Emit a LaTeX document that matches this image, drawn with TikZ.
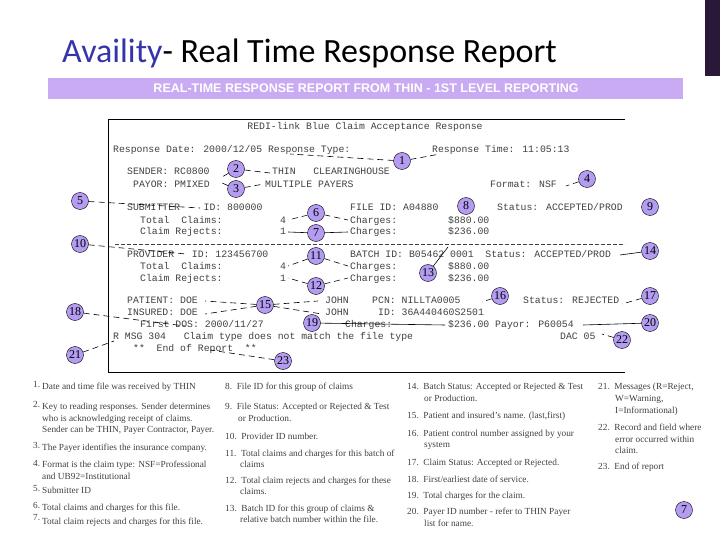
\documentclass[tikz,border=0pt]{standalone}
\usepackage{fontspec}
\setmainfont{Liberation Serif}
\newfontfamily\ttl{Carlito}
\newfontfamily\hv{Liberation Sans}
\newfontfamily\mn{Liberation Mono}
\definecolor{bub}{HTML}{B49CF2}
\definecolor{band}{HTML}{C9ABF3}
\definecolor{avblue}{HTML}{3535A8}
\definecolor{dpur}{HTML}{2A1838}
\definecolor{rep}{HTML}{404040}
\begin{document}
\begin{tikzpicture}[x=1pt,y=-1pt,
  bubble/.style={circle,fill=bub,draw=black,line width=0.4pt,inner sep=0pt,minimum size=17pt,font=\fontsize{12}{12}\selectfont},
  rt/.style={anchor=base west,inner sep=0pt,font=\mn\fontsize{9.8}{9.8}\selectfont,text=rep},
  lg/.style={anchor=base west,inner sep=0pt,font=\fontsize{9.3}{9.3}\selectfont,text=black!75},
  cn/.style={dashed,dash pattern=on 6pt off 4pt,line width=0.6pt},
  cs/.style={line width=0.6pt}]
\useasboundingbox (0,0) rectangle (720,540);
\fill[dpur] (705,0) rectangle (720,76);
\node[anchor=base west,inner sep=0pt,font=\ttl\fontsize{34}{34}\selectfont] (title) at (62,63) {\textcolor{avblue}{Availity}- Real Time Response Report};
\fill[band] (48,78) rectangle (683,99);
\node[inner sep=0pt,text=white,font=\hv\bfseries\fontsize{12.5}{12.5}\selectfont] (band) at (366,88.5) {REAL-TIME RESPONSE REPORT FROM THIN - 1ST LEVEL REPORTING};
\draw[line width=0.8pt] (625,119) -- (108,119) -- (108,372) -- (625,372);
\node[inner sep=0pt,font=\mn\fontsize{9.8}{9.8}\selectfont,text=rep] (hd) at (365,127) {REDI-link Blue Claim Acceptance Response};
\node[rt] at (113,153) {Response Date: 2000/12/05 Response Type:};
\node[rt] at (432,153) {Response Time: 11:05:13};
\node[rt] at (127,175) {SENDER: RC0800};
\node[rt] at (272,175) {THIN\ \ \ CLEARINGHOUSE};
\node[rt] at (133,188) {PAYOR: PMIXED};
\node[rt] at (265,188) {MULTIPLE PAYERS};
\node[rt] at (490,188) {Format: NSF};
\node[rt] at (127,211) {SUBMITTER\ \ \ \ ID: 800000};
\node[rt] at (350,211) {FILE ID: A04880};
\node[rt] at (497,211) {Status: ACCEPTED/PROD};
\node[rt] at (140,223) {Total\ \ Claims:};
\node[rt] at (280,223) {4};
\node[rt] at (350,223) {Charges:};
\node[rt] at (448,223) {\$880.00};
\node[rt] at (140,235) {Claim Rejects:};
\node[rt] at (280,235) {1};
\node[rt] at (350,235) {Charges:};
\node[rt] at (448,235) {\$236.00};
\draw[dashed,dash pattern=on 4pt off 2pt,line width=0.5pt,rep] (115,244) -- (625,244);
\node[rt] at (127,257) {PROVIDER\ \ \ ID: 123456700};
\node[rt] at (350,257) {BATCH ID: B05462 0001\ \ Status: ACCEPTED/PROD};
\node[rt] at (140,269) {Total\ \ Claims:};
\node[rt] at (280,269) {4};
\node[rt] at (350,269) {Charges:};
\node[rt] at (448,269) {\$880.00};
\node[rt] at (140,281) {Claim Rejects:};
\node[rt] at (280,281) {1};
\node[rt] at (350,281) {Charges:};
\node[rt] at (448,281) {\$236.00};
\node[rt] at (127,303) {PATIENT: DOE};
\node[rt] at (325,303) {JOHN\ \ \ \ PCN: NILLTA0005};
\node[rt] at (523,303) {Status: REJECTED};
\node[rt] at (127,315) {INSURED: DOE};
\node[rt] at (325,315) {JOHN\ \ \ \ \ ID: 36A440460S2501};
\node[rt] at (140,327) {First DOS: 2000/11/27};
\node[rt] at (345,327) {Charges:};
\node[rt] at (448,327) {\$236.00 Payor: P60054};
\node[rt] at (113,339) {R MSG 304\ \ \ Claim type does not match the file type};
\node[rt] at (560,339) {DAC 05};
\node[rt] at (133,351) {**\ \ End of Report\ \ **};
\coordinate (e1a) at (290,154); \coordinate (e1b) at (440,154);
\coordinate (e2a) at (222,177); \coordinate (e2b) at (270,173);
\coordinate (e3a) at (222,183); \coordinate (e3b) at (264,184);
\coordinate (e4) at (566,186);
\coordinate (e5) at (200,208);
\coordinate (e6a) at (288,220); \coordinate (e6b) at (348,220);
\coordinate (e7a) at (288,232); \coordinate (e7b) at (348,232);
\coordinate (e10) at (186,254);
\coordinate (e11a) at (288,266); \coordinate (e11b) at (348,266);
\coordinate (e12a) at (288,278); \coordinate (e12b) at (348,278);
\coordinate (e13) at (448,247);
\coordinate (e14) at (620,255);
\coordinate (e15a) at (205,301); \coordinate (e15b) at (318,301);
\coordinate (e15c) at (205,314); \coordinate (e15d) at (322,314);
\coordinate (e16) at (482,302);
\coordinate (e17) at (622,304);
\coordinate (e18) at (185,326);
\coordinate (e19) at (445,325);
\coordinate (e20) at (583,325);
\coordinate (e21) at (114,341);
\coordinate (e22) at (602,334);
\coordinate (e23) at (210,350);
\node[bubble] (b1) at (402,161) {1};
\node[bubble] (b2) at (236,169) {2};
\node[bubble] (b3) at (236,189) {3};
\node[bubble] (b4) at (587,179) {4};
\node[bubble] (b5) at (80,201) {5};
\node[bubble] (b6) at (316,213) {6};
\node[bubble] (b7) at (316,233) {7};
\node[bubble] (b8) at (466,206) {8};
\node[bubble] (b9) at (650,207) {9};
\node[bubble] (b10) at (80,244) {10};
\node[bubble] (b11) at (316,256) {11};
\node[bubble] (b12) at (316,286) {12};
\node[bubble] (b13) at (428,273) {13};
\node[bubble] (b14) at (650,251) {14};
\node[bubble] (b15) at (265,305) {15};
\node[bubble] (b16) at (500,296) {16};
\node[bubble] (b17) at (650,296) {17};
\node[bubble] (b18) at (75,312) {18};
\node[bubble] (b19) at (312,323) {19};
\node[bubble] (b20) at (650,323) {20};
\node[bubble] (b21) at (75,355) {21};
\node[bubble] (b22) at (622,340) {22};
\node[bubble] (b23) at (283,361) {23};
\node[bubble] (b7b) at (684,510) {7};
\draw[cn] (b1) -- (e1a); \draw[cn] (b1) -- (e1b);
\draw[cn] (b2) -- (e2a); \draw[cn] (b2) -- (e2b);
\draw[cn] (b3) -- (e3a); \draw[cn] (b3) -- (e3b);
\draw[cn] (b4) -- (e4);
\draw[cn] (b5) -- (e5);
\draw[cn] (b6) -- (e6a); \draw[cn] (b6) -- (e6b);
\draw[cs] (b7) -- (e7a); \draw[cs] (b7) -- (e7b);
\draw[cn] (b10) -- (e10);
\draw[cn] (b11) -- (e11a); \draw[cn] (b11) -- (e11b);
\draw[cn] (b12) -- (e12a); \draw[cn] (b12) -- (e12b);
\draw[cs] (b13) -- (e13);
\draw[cs] (b14) -- (e14);
\draw[cn] (b15) -- (e15a); \draw[cn] (b15) -- (e15b);
\draw[cn] (b15) -- (e15c); \draw[cn] (b15) -- (e15d);
\draw[cn] (b16) -- (e16);
\draw[cn] (b17) -- (e17);
\draw[cn] (b18) -- (e18);
\draw[cs] (b19) -- (e19);
\draw[cs] (b20) -- (e20);
\draw[cn] (b21) -- (e21);
\draw[cn] (b22) -- (e22);
\draw[cn] (b23) -- (e23);
\foreach \n/\y in {1./387,2./407,3./448,4./466,5./491,6./508,7./520}
  \node[lg] at (33,\y) {\n};
\node[lg] at (42,389) {Date and time file was received by THIN};
\node[lg] at (42,409) {Key to reading responses.  Sender determines};
\node[lg] at (42,421) {who is acknowledging receipt of claims.};
\node[lg] at (42,432) {Sender can be THIN, Payer Contractor, Payer.};
\node[lg] at (42,450) {The Payer identifies the insurance company.};
\node[lg] at (42,467) {Format is the claim type: NSF=Professional};
\node[lg] at (42,479) {and UB92=Institutional};
\node[lg] at (42,493) {Submitter ID};
\node[lg] at (42,510) {Total claims and charges for this file.};
\node[lg] at (42,524) {Total claim rejects and charges for this file.};
\node[lg] at (225,389) {8.\ \ File ID for this group of claims};
\node[lg] at (225,409) {9.\ \ File Status: Accepted or Rejected \& Test};
\node[lg] at (238,421) {or Production.};
\node[lg] at (225,439) {10.\ \ Provider ID number.};
\node[lg] at (225,456) {11.\ \ Total claims and charges for this batch of};
\node[lg] at (240,467) {claims};
\node[lg] at (225,483) {12.\ \ Total claim rejects and charges for these};
\node[lg] at (240,494) {claims.};
\node[lg] at (225,511) {13.\ \ Batch ID for this group of claims \&};
\node[lg] at (240,522) {relative batch number within the file.};
\node[lg] at (407,389) {14.\ \ Batch Status: Accepted or Rejected \& Test};
\node[lg] at (424,401) {or Production.};
\node[lg] at (407,418) {15.\ \ Patient and insured's name. (last,first)};
\node[lg] at (407,436) {16.\ \ Patient control number assigned by your};
\node[lg] at (424,447) {system};
\node[lg] at (407,465) {17.\ \ Claim Status:  Accepted or Rejected.};
\node[lg] at (407,482) {18.\ \ First/earliest date of service.};
\node[lg] at (407,498) {19.\ \ Total charges for the claim.};
\node[lg] at (407,514) {20.\ \ Payer ID number - refer to THIN Payer};
\node[lg] at (424,526) {list for name.};
\node[lg] at (598,389) {21.\ \ Messages (R=Reject,};
\node[lg] at (615,401) {W=Warning,};
\node[lg] at (615,413) {I=Informational)};
\node[lg] at (598,430) {22.\ \ Record and field where};
\node[lg] at (615,442) {error occurred within};
\node[lg] at (615,453) {claim.};
\node[lg] at (598,469) {23.\ \ End of report};
\end{tikzpicture}
\end{document}
